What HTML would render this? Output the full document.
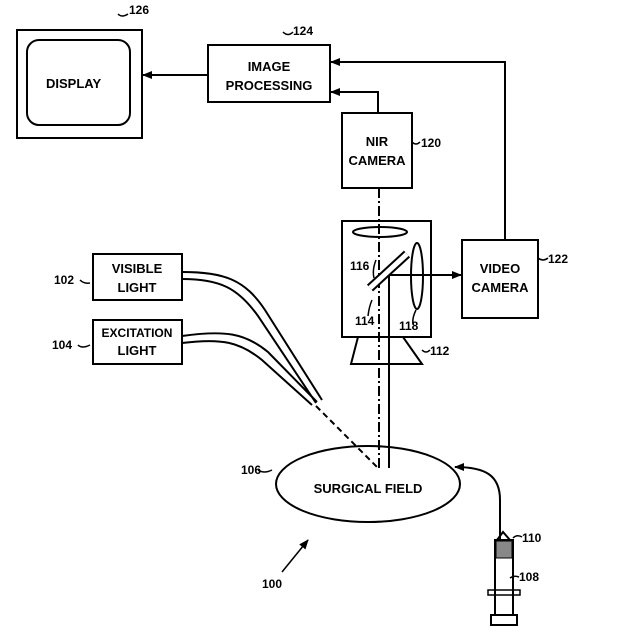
<!DOCTYPE html>
<html><head><style>body{margin:0;background:#fff}svg{display:block}text{font-family:"Liberation Sans",sans-serif;font-weight:bold;fill:#000}</style></head><body>
<svg width="618" height="634" viewBox="0 0 618 634" xmlns="http://www.w3.org/2000/svg">
<defs><marker id="a" markerWidth="10" markerHeight="8" refX="9" refY="4" orient="auto" markerUnits="userSpaceOnUse"><path d="M0,0 L10,4 L0,8 Z" fill="#000"/></marker></defs>
<g fill="none" stroke="#000" stroke-width="2">
<rect x="17" y="30" width="125" height="108"/>
<rect x="27" y="40" width="103" height="85" rx="12"/>
<rect x="208" y="45" width="122" height="57"/>
<line x1="208" y1="75" x2="143" y2="75" marker-end="url(#a)"/>
<polyline points="505,240 505,62 331,62" marker-end="url(#a)"/>
<polyline points="378,113 378,92 331,92" marker-end="url(#a)"/>
<rect x="342" y="113" width="70" height="75"/>
<rect x="342" y="221" width="89" height="116"/>
<polygon points="358,337 403,337 422,364 351,364"/>
<line x1="379" y1="188" x2="379" y2="470" stroke-dasharray="10,3,2,3" />
<line x1="389" y1="275" x2="389" y2="468"/>
<line x1="389" y1="275" x2="461" y2="275" marker-end="url(#a)"/>
<rect x="462" y="240" width="76" height="78"/>
<ellipse cx="380" cy="232" rx="27" ry="5"/>
<line x1="370" y1="288" x2="407" y2="254" stroke-width="9"/>
<line x1="370" y1="288" x2="407" y2="254" stroke="#fff" stroke-width="5"/>
<ellipse cx="417" cy="276" rx="6" ry="33"/>
<rect x="93" y="254" width="89" height="46"/>
<rect x="93" y="320" width="89" height="44"/>
<path d="M182,272 C225,272 245,280 265,310 L322,400"/>
<path d="M182,279 C220,279 238,288 258,316 L316,403"/>
<path d="M182,336 C225,330 245,333 268,352 L317,402"/>
<path d="M182,343 C222,338 240,342 262,360 L312,405"/>
<line x1="316" y1="406" x2="378" y2="468" stroke-dasharray="6,4"/>
<ellipse cx="368" cy="484" rx="92" ry="38"/>
<path d="M500,540 L500,500 C500,475 485,467 455,467" marker-end="url(#a)"/>
<path d="M497,540 L503,532 L510,540"/>
<rect x="495" y="540" width="18" height="75"/>
<rect x="496" y="541" width="16" height="17" fill="#888" stroke-width="1"/>
<rect x="488" y="590" width="32" height="5" stroke-width="1.5"/>
<rect x="491" y="615" width="26" height="10"/>
<path d="M118,14 q4,4 10,0 M283,32 q5,5 10,0 M412,142 q4,4 8,0 M538,258 q5,4 10,0 M422,350 q4,4 8,0 M80,280 q4,4 10,3 M78,345 q4,4 12,0 M258,470 q6,4 14,0 M513,538 q4,-4 9,-1 M510,578 q4,-3 9,-1 M376,260 q-4,10 -2,18 M372,300 q-3,7 -4,16 M416,310 q-4,8 -3,14" stroke-width="1.5"/>
<line x1="282" y1="572" x2="308" y2="540" stroke-width="1.5" marker-end="url(#a)"/>
</g>
<g font-size="13">
<text x="46" y="88">DISPLAY</text>
<text x="269" y="71" text-anchor="middle">IMAGE</text>
<text x="269" y="90" text-anchor="middle">PROCESSING</text>
<text x="377" y="146" text-anchor="middle">NIR</text>
<text x="377" y="165" text-anchor="middle">CAMERA</text>
<text x="500" y="273" text-anchor="middle">VIDEO</text>
<text x="500" y="292" text-anchor="middle">CAMERA</text>
<text x="137" y="273" text-anchor="middle">VISIBLE</text>
<text x="137" y="292" text-anchor="middle">LIGHT</text>
<text x="137" y="337" text-anchor="middle" font-size="12">EXCITATION</text>
<text x="137" y="355" text-anchor="middle">LIGHT</text>
<text x="368" y="493" text-anchor="middle">SURGICAL FIELD</text>
</g>
<g font-size="12">
<text x="129" y="14">126</text><text x="293" y="35">124</text><text x="421" y="147">120</text>
<text x="548" y="263">122</text><text x="430" y="355">112</text>
<text x="54" y="284">102</text><text x="52" y="349">104</text><text x="241" y="474">106</text>
<text x="522" y="542">110</text><text x="519" y="581">108</text><text x="262" y="588">100</text>
<text x="350" y="270">116</text><text x="355" y="325">114</text><text x="399" y="330">118</text>
</g>
</svg>
</body></html>
